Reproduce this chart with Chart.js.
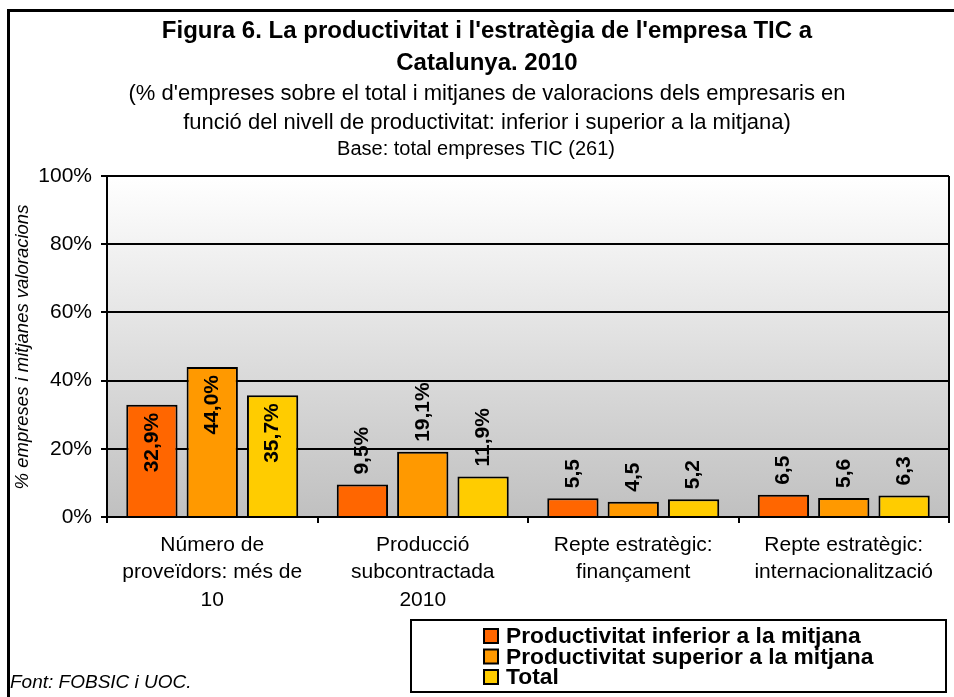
<!DOCTYPE html>
<html lang="ca">
<head>
<meta charset="utf-8">
<title>Figura 6</title>
<script src="https://cdn.jsdelivr.net/npm/chart.js@4/dist/chart.umd.min.js"></script>
<style>
  html, body { margin: 0; padding: 0; background: #fff; }
  canvas { display: block; }
</style>
</head>
<body>
<canvas id="grafic" width="954" height="697"></canvas>
<script>
// Dades llegides del gràfic
const categories = [
    ["Número de", "proveïdors: més de", "10"],
    ["Producció", "subcontractada", "2010"],
    ["Repte estratègic:", "finançament"],
    ["Repte estratègic:", "internacionalització"]
];
const seriesNames = [
    "Productivitat inferior a la mitjana",
    "Productivitat superior a la mitjana",
    "Total"
];
const inferior = [32.9, 9.5, 5.5, 6.5];
const superior = [44.0, 19.1, 4.5, 5.6];
const total = [35.7, 11.9, 5.2, 6.3];
// les dues primeres categories són percentatges, les altres mitjanes
const esPercentatge = [true, true, false, false];
const yTicks = [0, 20, 40, 60, 80, 100];

const FONT = "'Liberation Sans', Arial, sans-serif";
Chart.defaults.font.family = FONT;
Chart.defaults.color = "#000";

function formatValor(v, j) {
    return v.toFixed(1).replace(".", ",") + (esPercentatge[j] ? "%" : "");
}

// Fons blanc i degradat dins l'àrea del gràfic
const fons = {
    id: "fons",
    beforeDraw(chart) {
        const { ctx, chartArea: a } = chart;
        ctx.save();
        ctx.fillStyle = "#fff";
        ctx.fillRect(0, 0, chart.width, chart.height);
        const g = ctx.createLinearGradient(0, a.top, 0, a.bottom);
        g.addColorStop(0, "#ffffff");
        g.addColorStop(1, "#c0c0c0");
        ctx.fillStyle = g;
        ctx.fillRect(a.left, a.top, a.right - a.left, a.bottom - a.top);
        ctx.restore();
    }
};

// Etiquetes de valor girades
const etiquetes = {
    id: "etiquetes",
    afterDatasetsDraw(chart) {
        const ctx = chart.ctx;
        ctx.save();
        ctx.font = "bold 21px " + FONT;
        ctx.fillStyle = "#000";
        ctx.textBaseline = "middle";
        chart.data.datasets.forEach((ds, i) => {
            chart.getDatasetMeta(i).data.forEach((bar, j) => {
                const dins = j === 0;
                ctx.save();
                ctx.translate(bar.x, dins ? bar.y + 8 : bar.y - 10);
                ctx.rotate(-Math.PI / 2);
                ctx.textAlign = dins ? "right" : "left";
                ctx.fillText(formatValor(ds.data[j], j), 0, 0);
                ctx.restore();
            });
        });
        ctx.restore();
    }
};

// Títols, marc, llegenda i font
const textos = {
    id: "textos",
    afterDraw(chart) {
        const { ctx, chartArea: a } = chart;
        ctx.save();

        // marc exterior (només es veuen els costats superior i esquerre)
        ctx.strokeStyle = "#000";
        ctx.lineWidth = 3;
        ctx.strokeRect(8.5, 10.5, 1000, 1000);

        // costat dret de l'àrea del gràfic
        ctx.lineWidth = 2;
        ctx.beginPath();
        ctx.moveTo(a.right, a.top);
        ctx.lineTo(a.right, a.bottom + 6);
        ctx.stroke();

        ctx.fillStyle = "#000";
        ctx.textAlign = "center";
        ctx.textBaseline = "middle";
        ctx.font = "bold 24px " + FONT;
        ctx.fillText("Figura 6. La productivitat i l'estratègia de l'empresa TIC a", 487, 31);
        ctx.fillText("Catalunya. 2010", 487, 63);
        ctx.font = "22px " + FONT;
        ctx.fillText("(% d'empreses sobre el total i mitjanes de valoracions dels empresaris en", 487, 94);
        ctx.fillText("funció del nivell de productivitat: inferior i superior a la mitjana)", 487, 123);
        ctx.font = "20px " + FONT;
        ctx.fillText("Base: total empreses TIC (261)", 476, 149);

        // títol de l'eix Y
        ctx.save();
        ctx.translate(23, 347);
        ctx.rotate(-Math.PI / 2);
        ctx.font = "italic 18.5px " + FONT;
        ctx.fillText("% empreses i mitjanes valoracions", 0, 0);
        ctx.restore();

        // llegenda
        ctx.lineWidth = 2;
        ctx.strokeRect(411, 620, 535, 72);
        ctx.textAlign = "left";
        ctx.font = "bold 22.8px " + FONT;
        chart.data.datasets.forEach((ds, i) => {
            const y = 636 + i * 20.5;
            ctx.fillStyle = ds.backgroundColor;
            ctx.fillRect(484, y - 7, 14, 14);
            ctx.strokeRect(484, y - 7, 14, 14);
            ctx.fillStyle = "#000";
            ctx.fillText(ds.label, 506, y + 1);
        });

        ctx.font = "italic 19px " + FONT;
        ctx.fillText("Font: FOBSIC i UOC.", 10, 683);
        ctx.restore();
    }
};

document.addEventListener("DOMContentLoaded", function () {
    const ctx = document.getElementById("grafic").getContext("2d");
    new Chart(ctx, {
        type: "bar",
        data: {
            labels: categories,
            datasets: [
                { label: seriesNames[0], data: inferior, backgroundColor: "#FF6600" },
                { label: seriesNames[1], data: superior, backgroundColor: "#FF9900" },
                { label: seriesNames[2], data: total, backgroundColor: "#FFCC00" }
            ]
        },
        options: {
            responsive: false,
            animation: false,
            layout: { padding: { top: 176, right: 5, bottom: 0, left: 0 } },
            datasets: {
                bar: {
                    borderColor: "#000",
                    borderWidth: 2,
                    categoryPercentage: 0.86,
                    barPercentage: 0.85
                }
            },
            plugins: {
                legend: { display: false },
                title: { display: false },
                tooltip: { enabled: false }
            },
            scales: {
                x: {
                    afterFit: s => { s.height = 180; },
                    grid: {
                        drawOnChartArea: false,
                        drawTicks: true,
                        tickLength: 6,
                        color: "#000",
                        lineWidth: 2
                    },
                    border: { display: true, color: "#000", width: 2 },
                    ticks: {
                        font: { size: 21, lineHeight: 1.31 },
                        color: "#000",
                        padding: 8,
                        maxRotation: 0,
                        autoSkip: false
                    }
                },
                y: {
                    min: 0,
                    max: 100,
                    afterFit: s => { s.width = 107; },
                    afterBuildTicks: s => { s.ticks = yTicks.map(v => ({ value: v })); },
                    grid: {
                        color: "#000",
                        lineWidth: 2,
                        tickLength: 6
                    },
                    border: { display: true, color: "#000", width: 2 },
                    ticks: {
                        font: { size: 21 },
                        color: "#000",
                        padding: 9,
                        callback: v => v + "%"
                    }
                }
            }
        },
        plugins: [fons, etiquetes, textos]
    });
});
</script>
</body>
</html>
